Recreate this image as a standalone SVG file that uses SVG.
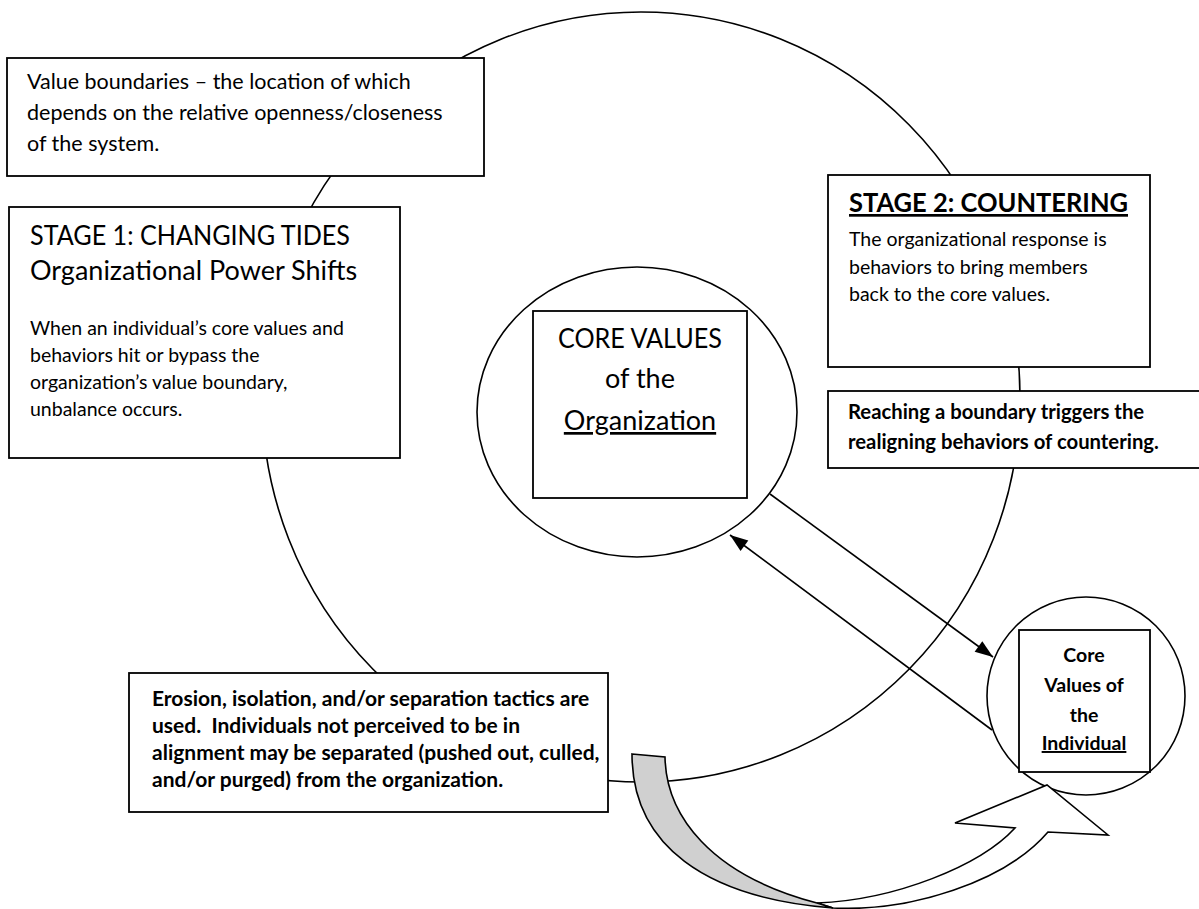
<svg xmlns="http://www.w3.org/2000/svg" width="1199" height="909" viewBox="0 0 1199 909">
<defs>
<style>
.box{fill:#fff;stroke:#000;stroke-width:1.8}
.ring{fill:#fff;stroke:#000;stroke-width:1.6}
.t{font-family:Lato,"Liberation Sans",sans-serif;fill:#000}
.b{font-weight:bold}
.ln{fill:none;stroke:#000;stroke-width:1.6}
</style>
<marker id="ah" viewBox="0 0 18 14" refX="18" refY="7" markerWidth="18" markerHeight="14" markerUnits="userSpaceOnUse" orient="auto" overflow="visible">
<path d="M0,0.5 L18,7 L0,13.5 Z" fill="#000"/>
</marker>
</defs>
<rect width="1199" height="909" fill="#fff"/>
<g id="boundary">
<ellipse cx="641" cy="397" rx="379" ry="385" fill="none" stroke="#000" stroke-width="1.6"/>
</g>
<g id="value-boundaries">
<rect class="box" x="7" y="58" width="477" height="118"/>
<text class="t" font-size="21.5" x="27" y="89">Value boundaries – the location of which</text>
<text class="t" font-size="21.5" x="27" y="120">depends on the relative openness/closeness</text>
<text class="t" font-size="21.5" x="27" y="151">of the system.</text>
</g>
<g id="stage1">
<rect class="box" x="9" y="207" width="391" height="251"/>
<text class="t" font-size="27" x="30" y="245" textLength="320" lengthAdjust="spacingAndGlyphs">STAGE 1: CHANGING TIDES</text>
<text class="t" font-size="27" x="30" y="280">Organizational Power Shifts</text>
<text class="t" font-size="19.5" x="30" y="335">When an individual’s core values and</text>
<text class="t" font-size="19.5" x="30" y="362">behaviors hit or bypass the</text>
<text class="t" font-size="19.5" x="30" y="389">organization’s value boundary,</text>
<text class="t" font-size="19.5" x="30" y="416">unbalance occurs.</text>
</g>
<g id="stage2">
<rect class="box" x="828" y="175" width="322" height="192"/>
<text class="t b" font-size="27" x="849" y="212" text-decoration="underline" textLength="279" lengthAdjust="spacingAndGlyphs">STAGE 2: COUNTERING</text>
<text class="t" font-size="19.5" x="849" y="246">The organizational response is</text>
<text class="t" font-size="19.5" x="849" y="274">behaviors to bring members</text>
<text class="t" font-size="19.5" x="849" y="301">back to the core values.</text>
</g>
<g id="countering-trigger">
<rect class="box" x="828" y="391" width="380" height="77"/>
<text class="t b" font-size="20.3" x="848" y="419">Reaching a boundary triggers the</text>
<text class="t b" font-size="20.3" x="848" y="449">realigning behaviors of countering.</text>
</g>
<g id="erosion">
<rect class="box" x="129" y="673" width="479" height="139"/>
<text class="t b" font-size="21" x="152" y="706">Erosion, isolation, and/or separation tactics are</text>
<text class="t b" font-size="21" x="152" y="733">used.&#160; Individuals not perceived to be in</text>
<text class="t b" font-size="21" x="152" y="760">alignment may be separated (pushed out, culled,</text>
<text class="t b" font-size="21" x="152" y="787">and/or purged) from the organization.</text>
</g>
<g id="org-core">
<ellipse class="ring" cx="637" cy="412" rx="160" ry="145"/>
<rect class="box" x="533" y="311" width="214" height="187"/>
<text class="t" font-size="27" x="640" y="348" text-anchor="middle" textLength="164" lengthAdjust="spacingAndGlyphs">CORE VALUES</text>
<text class="t" font-size="27" x="640" y="388" text-anchor="middle">of the</text>
<text class="t" font-size="27" x="640" y="430" text-anchor="middle" text-decoration="underline">Organization</text>
</g>
<g id="individual-core">
<circle class="ring" cx="1086" cy="696" r="99"/>
<rect class="box" x="1019" y="630" width="131" height="142"/>
<text class="t b" font-size="19.5" x="1084" y="662" text-anchor="middle">Core</text>
<text class="t b" font-size="19.5" x="1084" y="692" text-anchor="middle">Values of</text>
<text class="t b" font-size="19.5" x="1084" y="722" text-anchor="middle">the</text>
<text class="t b" font-size="19.5" x="1084" y="750" text-anchor="middle" text-decoration="underline">Individual</text>
</g>
<g id="connectors">
<line class="ln" x1="770" y1="494" x2="993" y2="657" marker-end="url(#ah)"/>
<line class="ln" x1="992" y1="730" x2="730" y2="535" marker-end="url(#ah)"/>
<path d="M817,903 C895,900 980,866 1015,828 L955,823 L1047,785 L1108,835 L1048,832 C1005,882 910,912 833,908 Z" fill="#fff" stroke="#000" stroke-width="1.6" stroke-linejoin="miter"/>
<path d="M632,754 L665,757 C666,815 710,875 817,903 L833,908 C705,898 632,845 632,754 Z" fill="#d0d0d0" stroke="#000" stroke-width="1.6"/>
</g>
</svg>
